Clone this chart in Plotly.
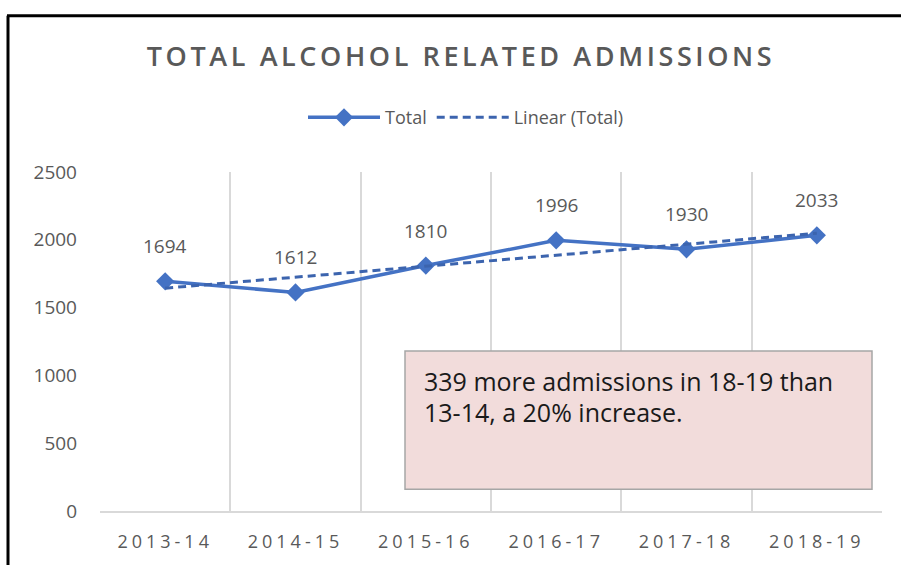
import numpy as np
import plotly.graph_objects as go

# ---- data ----
years = ["2013-14", "2014-15", "2015-16", "2016-17", "2017-18", "2018-19"]
total = [1694, 1612, 1810, 1996, 1930, 2033]
y_ticks = [0, 500, 1000, 1500, 2000, 2500]
title_text = "TOTAL ALCOHOL RELATED ADMISSIONS"
note_lines = ["339 more admissions in 18-19 than", "13-14, a 20% increase."]

# linear trendline (least squares, like Excel's "Linear (Total)")
idx = np.arange(1, len(total) + 1)
slope, intercept = np.polyfit(idx, total, 1)
trend = list(slope * idx + intercept)

W, H = 901, 565
L, R, T, B = 100, 882, 172, 515   # plot area in pixels


def px_x(p):
    return (p - L) / (R - L)


def px_y(p):
    return (B - p) / (B - T)


BLUE = "#4472C4"
GREY = "#595959"
FONT = "Open Sans"

fig = go.Figure()
fig.add_trace(go.Scatter(
    x=years, y=total, name="Total", mode="lines+markers",
    line=dict(color=BLUE, width=3.5),
    marker=dict(symbol="diamond", size=14, color=BLUE),
))
fig.add_trace(go.Scatter(
    x=years, y=trend, name="Linear (Total)", mode="lines",
    line=dict(color="#3C64AE", width=3, dash="8px,5px"),
    hoverinfo="skip",
))

# data labels
for yr, v in zip(years, total):
    fig.add_annotation(x=yr, y=v, text=str(v), showarrow=False,
                       yshift=35, font=dict(family=FONT, size=19, color=GREY))

# note box
fig.add_shape(type="rect", xref="paper", yref="paper",
              x0=px_x(405), x1=px_x(872), y0=px_y(493), y1=px_y(353),
              fillcolor="#F2DCDB", line=dict(color="#A6A6A6", width=1.5),
              layer="above")
for i, line in enumerate(note_lines):
    fig.add_annotation(xref="paper", yref="paper", x=px_x(422), y=px_y(383 + 32 * i),
                       xanchor="left", yanchor="middle", showarrow=False,
                       text=line, font=dict(family=FONT, size=25, color="#1A1A1A"))

# outer black frame (screenshot border)
fig.add_shape(type="line", xref="paper", yref="paper",
              x0=px_x(8), x1=px_x(8), y0=px_y(14), y1=px_y(600),
              line=dict(color="black", width=3))
fig.add_shape(type="line", xref="paper", yref="paper",
              x0=px_x(7), x1=px_x(910), y0=px_y(14), y1=px_y(14),
              line=dict(color="black", width=3))

fig.update_layout(
    width=W, height=H,
    margin=dict(l=L, r=W - R, t=T, b=H - B, pad=0),
    paper_bgcolor="white", plot_bgcolor="white",
    font=dict(family=FONT, color=GREY),
    title=dict(text=title_text, xref="container", yref="container",
               x=461 / W, y=1 - 57 / H, xanchor="center", yanchor="middle",
               font=dict(family=FONT, size=27, color=GREY, weight=600)),
    showlegend=True,
    legend=dict(orientation="h", xref="paper", yref="paper",
                x=px_x(466), y=px_y(117), xanchor="center", yanchor="middle",
                font=dict(family=FONT, size=18, color=GREY),
                itemwidth=72, bgcolor="rgba(0,0,0,0)"),
    xaxis=dict(type="category", range=[-0.5, len(years) - 0.5],
               tickson="boundaries", showgrid=True, gridcolor="#D9D9D9", gridwidth=1.5,
               showline=True, linecolor="#D9D9D9", linewidth=1.5,
               ticks="", tickfont=dict(family=FONT, size=18, color=GREY),
               ticklabelstandoff=14, zeroline=False),
    yaxis=dict(range=[0, 2500], tickvals=y_ticks, showgrid=False,
               showline=False, zeroline=False, ticks="",
               tickfont=dict(family=FONT, size=19, color=GREY),
               ticklabelstandoff=22),
)

post = """
document.body.style.margin = '0';
document.body.style.padding = '0';
var gd = document.getElementById('{plot_id}');
function sp(){
  document.querySelectorAll('.gtitle').forEach(function(e){e.style.letterSpacing='3.6px';});
  document.querySelectorAll('.xtick text').forEach(function(e){e.style.letterSpacing='4px';});
}
sp();
if (gd && gd.on) { gd.on('plotly_afterplot', sp); }
"""

fig.write_html("out.html", post_script=post, config={"displayModeBar": False})
